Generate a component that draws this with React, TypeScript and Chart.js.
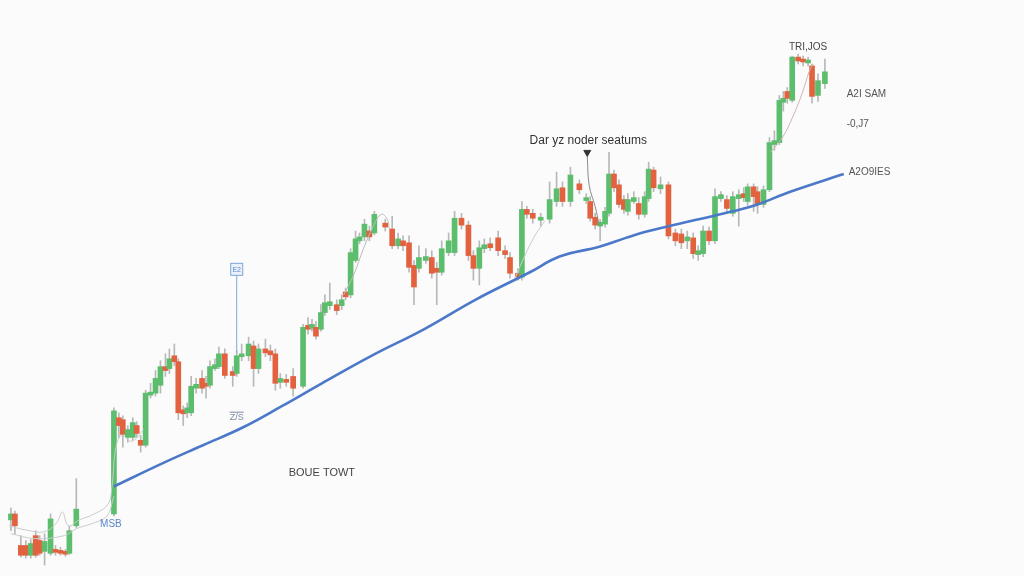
import React, { useEffect, useRef } from "react";
import { Chart, registerables } from "chart.js";

Chart.register(...registerables);

// session time (minutes from start) and OHLC prices
const times = [
  0, 4, 10, 15, 20, 25, 29, 34, 40, 45,
  50, 55, 59, 66, 104, 109, 113, 118, 123, 127,
  131, 136, 141, 146, 151, 156, 160, 165, 169, 174,
  178, 182, 187, 193, 197, 201, 206, 210, 216, 224,
  228, 233, 240, 245, 250, 257, 262, 267, 272, 278,
  285, 295, 300, 304, 308, 313, 317, 322, 329, 334,
  338, 343, 348, 352, 357, 362, 367, 378, 385, 391,
  396, 402, 407, 412, 419, 425, 430, 435, 442, 448,
  455, 462, 467, 473, 478, 484, 492, 499, 504, 512,
  516, 521, 527, 535, 544, 551, 557, 565, 574, 581,
  585, 590, 595, 600, 604, 609, 614, 619, 623, 629,
  634, 640, 644, 649, 656, 664, 671, 677, 683, 689,
  694, 699, 705, 711, 717, 723, 729, 735, 740, 744,
  750, 754, 760, 766, 771, 776, 780, 784, 789, 795,
  800, 805, 809, 815, 822,
];
const opens = [
  52, 58, 26, 26, 16, 36, 31, 20, 18, 22,
  21, 20, 18, 46, 58, 156, 154, 136, 136, 148,
  133, 128, 179, 181, 189, 208, 206, 219, 213, 164,
  161, 161, 186, 196, 191, 189, 206, 208, 221, 203,
  201, 218, 219, 229, 206, 226, 224, 221, 192, 195,
  198, 188, 250, 247, 248, 246, 263, 270, 271, 270,
  284, 281, 316, 336, 340, 346, 344, 354, 348, 331,
  336, 334, 311, 308, 316, 319, 308, 304, 324, 324,
  359, 352, 321, 308, 328, 333, 339, 326, 319, 303,
  299, 368, 364, 357, 358, 376, 390, 376, 394, 377,
  376, 360, 351, 353, 364, 404, 393, 378, 366, 376,
  374, 363, 379, 408, 389, 393, 344, 343, 336, 339,
  322, 323, 346, 336, 379, 378, 364, 379, 384, 376,
  391, 386, 373, 388, 434, 436, 477, 488, 479, 523,
  521, 517, 514, 484, 496,
];
const closes = [
  58, 46, 16, 16, 28, 16, 18, 30, 53, 19,
  18, 17, 41, 63, 163, 148, 139, 144, 151, 140,
  128, 181, 182, 196, 208, 204, 216, 213, 161, 160,
  166, 188, 190, 186, 188, 208, 210, 221, 199, 199,
  219, 221, 231, 206, 226, 222, 220, 191, 196, 192,
  186, 248, 246, 251, 239, 263, 273, 274, 265, 276,
  279, 324, 338, 340, 353, 340, 363, 350, 331, 338,
  331, 309, 289, 319, 320, 303, 304, 328, 336, 359,
  352, 321, 308, 329, 332, 329, 326, 322, 303, 299,
  368, 363, 359, 360, 378, 389, 376, 403, 388, 380,
  359, 352, 355, 366, 404, 390, 373, 368, 378, 380,
  363, 381, 409, 390, 393, 341, 336, 334, 340, 323,
  326, 346, 336, 381, 383, 369, 381, 383, 380, 391,
  381, 373, 388, 436, 438, 479, 481, 481, 523, 519,
  518, 520, 483, 499, 508,
];
const highs = [
  64, 61, 36, 31, 32, 41, 36, 38, 58, 26,
  24, 22, 46, 94, 166, 161, 158, 148, 156, 152,
  138, 184, 191, 204, 214, 221, 226, 231, 216, 168,
  171, 198, 196, 204, 198, 214, 216, 228, 226, 208,
  224, 231, 238, 234, 231, 236, 230, 226, 201, 200,
  206, 251, 258, 256, 254, 271, 281, 293, 276, 281,
  288, 328, 346, 344, 358, 351, 366, 358, 361, 344,
  341, 341, 316, 331, 328, 326, 314, 336, 344, 366,
  364, 356, 326, 336, 338, 339, 346, 331, 324, 308,
  376, 371, 368, 364, 396, 406, 396, 411, 398, 384,
  381, 364, 358, 370, 426, 408, 398, 382, 384, 386,
  380, 386, 416, 411, 401, 396, 348, 348, 346, 344,
  331, 351, 350, 389, 386, 382, 386, 388, 390, 394,
  394, 391, 392, 441, 448, 484, 488, 492, 524, 526,
  524, 523, 516, 506, 521,
];
const lows = [
  41, 38, 14, 13, 13, 14, 16, 6, 16, 16,
  16, 15, 17, 44, 56, 136, 126, 131, 133, 136,
  121, 126, 176, 178, 181, 198, 201, 209, 154, 148,
  156, 158, 181, 181, 176, 186, 204, 206, 196, 188,
  198, 214, 214, 188, 201, 218, 214, 184, 186, 188,
  178, 186, 241, 244, 236, 244, 260, 266, 261, 266,
  276, 278, 314, 333, 336, 336, 342, 346, 328, 328,
  326, 304, 271, 304, 313, 298, 271, 301, 321, 321,
  348, 316, 296, 291, 324, 326, 321, 318, 298, 296,
  296, 359, 354, 351, 354, 371, 371, 371, 384, 374,
  356, 348, 336, 350, 361, 386, 370, 364, 362, 374,
  358, 360, 376, 386, 384, 338, 331, 328, 328, 318,
  316, 320, 332, 333, 376, 364, 361, 351, 376, 372,
  366, 364, 370, 386, 428, 434, 468, 476, 477, 516,
  514, 514, 476, 478, 491,
];

// long moving average (blue)
const maTimes = [104, 154, 194, 234, 274, 314, 364, 417, 469, 524, 554, 594, 621, 644, 677, 704, 729, 754, 787, 841];
const maValues = [86, 110, 128, 146, 168, 191, 219, 246, 276, 304, 320, 330, 339, 346, 354, 360, 366, 373, 386, 404];

// short averages (thin grey traces)
const shortATimes = [-2, 14, 34, 46, 52, 58, 69, 84, 98, 102, 106, 112, 122, 134];
const shortAValues = [46, 42, 40, 49, 60, 46, 52, 58, 68, 86, 126, 138, 132, 144];
const shortBTimes = [0, 24, 54, 66, 84, 97, 104];
const shortBValues = [38, 33, 36, 43, 49, 56, 76];
const shortCTimes = [336, 346, 356, 366, 374, 380, 382];
const shortCValues = [281, 301, 328, 351, 363, 358, 348];
const shortDTimes = [509, 519, 529, 539];
const shortDValues = [298, 321, 341, 356];
const shortETimes = [767, 779, 789, 799, 806, 810];
const shortEValues = [426, 441, 461, 486, 508, 516];

// callout pointer
const pointerTimes = [582, 584, 590, 594];
const pointerValues = [422, 392, 371, 352];
const markerTime = 582;
const markerValue = 426;
const flagTime = 228;
const flagValues = [301, 222];

const labels = [
  { text: "Dar yz noder seatums", t: 583, p: 438, size: 12, color: "#333", align: "center" },
  { text: "TRI,JOS", t: 805, p: 533, size: 10, color: "#444", align: "center" },
  { text: "A2I SAM", t: 844, p: 485, size: 10, color: "#555", align: "left" },
  { text: "-0,J7", t: 844, p: 455, size: 10, color: "#555", align: "left" },
  { text: "A2O9IES", t: 846, p: 406, size: 10, color: "#555", align: "left" },
  { text: "BOUE TOWT", t: 314, p: 100, size: 11, color: "#444", align: "center" },
  { text: "Z/S", t: 228, p: 156, size: 9, color: "#7d8aa6", align: "center", overline: true },
  { text: "MSB", t: 101, p: 48, size: 10, color: "#5b86c9", align: "center" },
];
const flagBox = { text: "E2", t: 228, p: 307 };

const GREEN = "#5cbd6d";
const RED = "#e2623f";
const WICK = "#b8b8b8";
const BLUE = "#4b78c9";
const GREY = "#cbcbcb";
const FONT = "'Liberation Sans', Arial, sans-serif";

const pts = (xs: number[], ys: number[]) => xs.map((x, i) => ({ x, y: ys[i] }));

export default function App() {
  const ref = useRef<HTMLCanvasElement>(null);
  useEffect(() => {
    const canvas = ref.current;
    if (!canvas) return;
    const bodyColors = times.map((_, i) => (closes[i] >= opens[i] ? GREEN : RED));

    const bgPlugin = {
      id: "bg",
      beforeDraw(chart: any) {
        const c = chart.ctx;
        c.save();
        c.fillStyle = "#fbfbfb";
        c.fillRect(0, 0, chart.width, chart.height);
        c.restore();
      },
    };
    const textPlugin = {
      id: "texts",
      afterDatasetsDraw(chart: any) {
        const c = chart.ctx;
        const xs = chart.scales.x;
        const ys = chart.scales.y;
        c.save();
        c.textBaseline = "middle";
        for (const l of labels) {
          const x = xs.getPixelForValue(l.t);
          const y = ys.getPixelForValue(l.p);
          c.font = `${l.size}px ${FONT}`;
          c.fillStyle = l.color;
          c.textAlign = l.align as CanvasTextAlign;
          c.fillText(l.text, x, y);
          if ((l as any).overline) {
            const w = c.measureText(l.text).width;
            c.strokeStyle = l.color;
            c.lineWidth = 1;
            c.beginPath();
            c.moveTo(x - w / 2, y - l.size / 2 - 1);
            c.lineTo(x + w / 2, y - l.size / 2 - 1);
            c.stroke();
          }
        }
        const bx = xs.getPixelForValue(flagBox.t);
        const by = ys.getPixelForValue(flagBox.p);
        c.fillStyle = "#eaf1fb";
        c.strokeStyle = "#7ea5da";
        c.lineWidth = 1;
        c.fillRect(bx - 6, by - 6, 12, 12);
        c.strokeRect(bx - 6, by - 6, 12, 12);
        c.fillStyle = "#5b86c9";
        c.font = `7px ${FONT}`;
        c.textAlign = "center";
        c.fillText(flagBox.text, bx, by + 0.5);
        c.restore();
      },
    };

    const thin = (xs: number[], ys: number[], color: string, order: number) => ({
      type: "line" as const,
      data: pts(xs, ys),
      borderColor: color,
      borderWidth: 1,
      pointRadius: 0,
      tension: 0.4,
      fill: false,
      order,
    });

    const chart = new Chart(canvas, {
      type: "bar",
      data: {
        datasets: [
          {
            type: "line",
            data: pts(maTimes, maValues),
            borderColor: BLUE,
            borderWidth: 2.6,
            pointRadius: 0,
            tension: 0.4,
            fill: false,
            order: 1,
          } as any,
          thin(shortATimes, shortAValues, GREY, 3),
          thin(shortBTimes, shortBValues, GREY, 3),
          thin(shortCTimes, shortCValues, "#bdbdbd", 3),
          thin(shortDTimes, shortDValues, GREY, 3),
          thin(shortETimes, shortEValues, "#d3b5b0", 3),
          thin(pointerTimes, pointerValues, "#8a8a8a", 2),
          thin([flagTime, flagTime], flagValues, "#7ea5da", 2),
          {
            type: "line",
            data: [{ x: markerTime, y: markerValue }],
            showLine: false,
            pointStyle: "triangle",
            rotation: 180,
            pointRadius: 4,
            backgroundColor: "#333",
            borderColor: "#333",
            order: 1,
          } as any,
          {
            type: "bar",
            data: times.map((t, i) => ({ x: t, y: [lows[i], highs[i]] })),
            backgroundColor: WICK,
            barThickness: 1,
            grouped: false,
            borderWidth: 0,
            order: 6,
          } as any,
          {
            type: "bar",
            data: times.map((t, i) => ({ x: t, y: [opens[i], closes[i]] })),
            backgroundColor: bodyColors,
            barThickness: 5,
            grouped: false,
            borderWidth: 0,
            order: 5,
          } as any,
        ],
      },
      options: {
        animation: false,
        responsive: false,
        devicePixelRatio: 1,
        maintainAspectRatio: false,
        layout: { padding: 0 },
        plugins: { legend: { display: false }, tooltip: { enabled: false } },
        scales: {
          x: { type: "linear", min: -6, max: 1018, offset: false, display: false },
          y: { type: "linear", min: 0, max: 576, display: false },
        },
      },
      plugins: [bgPlugin, textPlugin],
    } as any);
    return () => chart.destroy();
  }, []);

  return (
    <div style={{ position: "fixed", left: 0, top: 0, width: 1024, height: 576, background: "#fbfbfb" }}>
      <canvas ref={ref} width={1024} height={576} style={{ display: "block", width: 1024, height: 576 }} />
    </div>
  );
}
